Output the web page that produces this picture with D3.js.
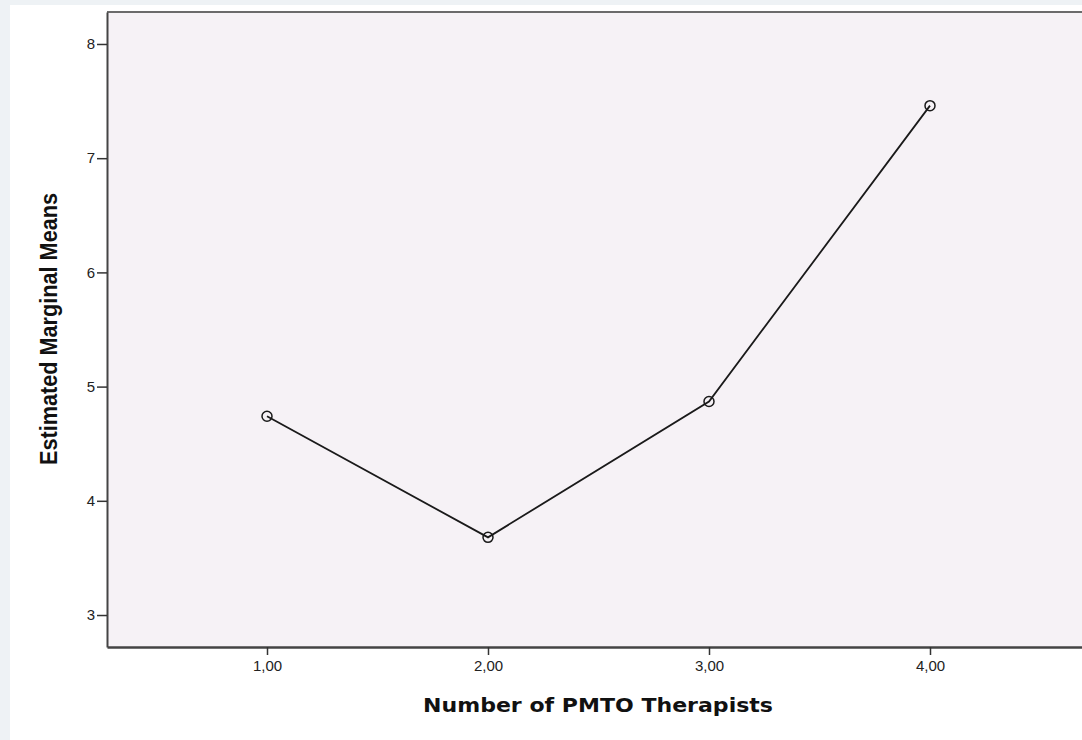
<!DOCTYPE html>
<html>
<head>
<meta charset="utf-8">
<script src="https://cdn.jsdelivr.net/npm/d3@7"></script>
<style>
html,body{margin:0;padding:0;background:#eef2f5;}
svg{display:block;}
</style>
</head>
<body>
<svg id="chart" width="1082" height="740"></svg>
<script>
const categories = [1, 2, 3, 4];
const xTickLabels = ["1,00", "2,00", "3,00", "4,00"];
const meanValues = [4.74, 3.68, 4.87, 7.46];
const yTicks = [3, 4, 5, 6, 7, 8];
const xTitle = "Number of PMTO Therapists";
const yTitle = "Estimated Marginal Means";

const svg = d3.select("#chart");
const W = 1082, H = 740;
const plot = {left: 107, top: 12, right: 1090, bottom: 647};

svg.append("rect").attr("x", 10).attr("y", 5).attr("width", W - 10).attr("height", H - 5).attr("fill", "#ffffff");

const x = d3.scaleLinear().domain([0.276, 4.724]).range([plot.left, plot.right]);
const y = d3.scaleLinear().domain([2.72, 8.28]).range([plot.bottom, plot.top]);

svg.append("rect").attr("x", plot.left).attr("y", plot.top)
  .attr("width", plot.right - plot.left).attr("height", plot.bottom - plot.top)
  .attr("fill", "#f6f2f6");

// top border
svg.append("line").attr("x1", plot.left).attr("x2", plot.right).attr("y1", plot.top).attr("y2", plot.top)
  .attr("stroke", "#6b6b6b").attr("stroke-width", 2);

// Axes
const yAxis = d3.axisLeft(y).tickValues(yTicks).tickSize(10).tickSizeOuter(0).tickPadding(2).tickFormat(d3.format("d"));
const gy = svg.append("g").attr("transform", `translate(${plot.left},0)`).call(yAxis);
gy.select(".domain").attr("stroke", "#444").attr("stroke-width", 2);
gy.selectAll(".tick line").attr("stroke", "#333").attr("stroke-width", 1.5);
gy.selectAll(".tick text").attr("font-family", "Liberation Sans, Arial, sans-serif").attr("font-size", 15).attr("fill", "#222");

const xAxis = d3.axisBottom(x).tickValues(categories).tickSize(8).tickSizeOuter(0).tickPadding(5)
  .tickFormat((d, i) => xTickLabels[i]);
const gx = svg.append("g").attr("transform", `translate(0,${plot.bottom})`).call(xAxis);
gx.select(".domain").attr("stroke", "#444").attr("stroke-width", 2.5);
gx.selectAll(".tick line").attr("stroke", "#333").attr("stroke-width", 1.5);
gx.selectAll(".tick text").attr("font-family", "Liberation Sans, Arial, sans-serif").attr("font-size", 15).attr("fill", "#222");

// Line
const data = categories.map((c, i) => ({c, v: meanValues[i]}));
svg.append("path").datum(data)
  .attr("d", d3.line().x(d => x(d.c)).y(d => y(d.v)))
  .attr("fill", "none").attr("stroke", "#1a1a1a").attr("stroke-width", 1.8);

svg.selectAll("circle.pt").data(data).enter().append("circle")
  .attr("class", "pt")
  .attr("cx", d => x(d.c)).attr("cy", d => y(d.v)).attr("r", 5)
  .attr("fill", "none").attr("stroke", "#1a1a1a").attr("stroke-width", 1.5);

// Titles
svg.append("text").attr("x", 598).attr("y", 712).attr("text-anchor", "middle")
  .attr("font-family", "DejaVu Sans, Verdana, sans-serif").attr("font-weight", "bold")
  .attr("font-size", 19).attr("fill", "#111")
  .attr("textLength", 350).attr("lengthAdjust", "spacingAndGlyphs")
  .text(xTitle);

svg.append("text").attr("transform", "translate(57,329) rotate(-90)").attr("text-anchor", "middle")
  .attr("font-family", "Liberation Sans, Arial, sans-serif").attr("font-weight", "bold")
  .attr("font-size", 23).attr("fill", "#111")
  .attr("textLength", 272).attr("lengthAdjust", "spacingAndGlyphs")
  .text(yTitle);
</script>
</body>
</html>
